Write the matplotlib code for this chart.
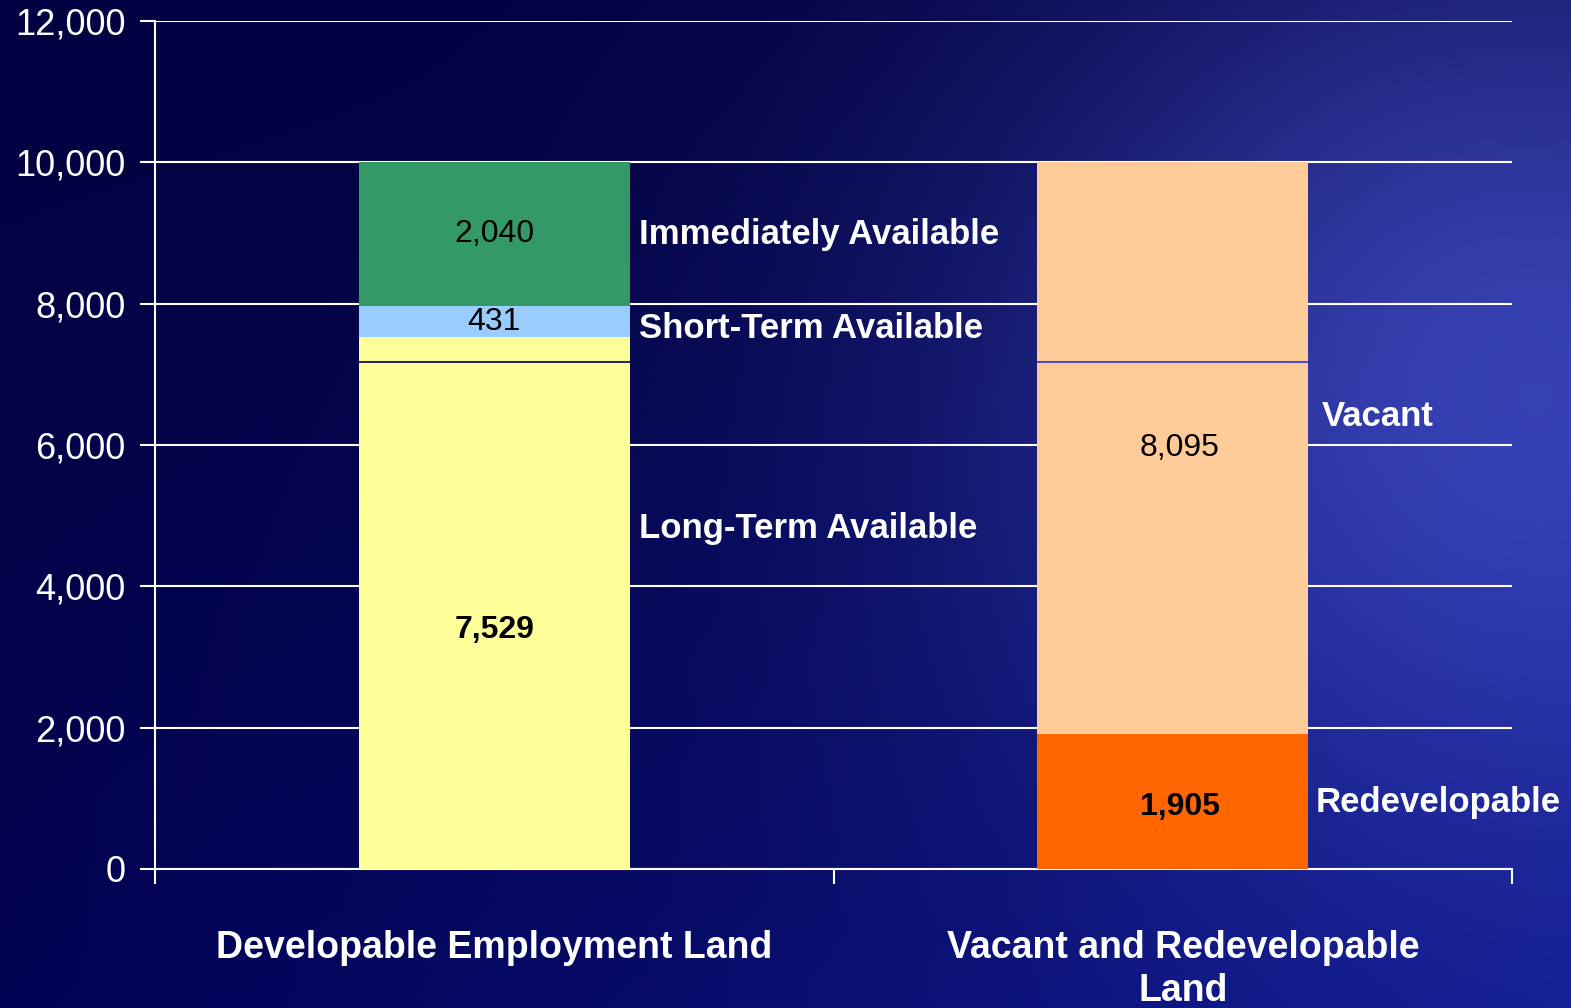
import numpy as np
import matplotlib
matplotlib.use("Agg")
import matplotlib.pyplot as plt
from matplotlib.ticker import FuncFormatter

# data
categories = ["Developable Employment Land", "Vacant and Redevelopable\nLand"]
dev_segments = ["Long-Term Available", "Short-Term Available", "Immediately Available"]
dev_values = [7529, 431, 2040]
dev_colors = ["#FFFF99", "#99CCFF", "#339966"]
vac_segments = ["Redevelopable", "Vacant"]
vac_values = [1905, 8095]
vac_colors = ["#FF6600", "#FFCC99"]
divider_level = 7180  # thin line that crosses both bars

plt.rcParams['font.family'] = ['Liberation Sans', 'DejaVu Sans']

W, H = 1571, 1008
fig = plt.figure(figsize=(W / 100, H / 100), dpi=100)

# background gradient
bg = fig.add_axes([0, 0, 1, 1], zorder=-10)
xx, yy = np.meshgrid(np.linspace(0, 1, 400), np.linspace(0, 1, 260))
w = 0.9 * np.exp(-(((xx - 0.97) / 0.34) ** 2 + ((yy - 0.35) / 0.50) ** 2)) + 0.2 * xx * yy
w = np.clip(w, 0, 1)
base = np.array([0x02, 0x02, 0x42]) / 255
bright = np.array([0x38, 0x40, 0xac]) / 255
img = base * (1 - w[..., None]) + bright * w[..., None]
img[..., 2] += 0.18 * yy ** 1.5 * (0.4 + 0.6 * xx)
img[..., 1] += 0.03 * yy * xx
img = np.clip(img, 0, 1)
bg.imshow(img, aspect='auto', extent=[0, 1, 0, 1], origin='upper', interpolation='bicubic')
bg.set_xlim(0, 1)
bg.set_ylim(0, 1)
bg.axis('off')

ax = fig.add_axes([155 / W, 139 / H, 1357 / W, 848 / H])
ax.set_facecolor('none')

x = np.arange(len(categories))
bw = 0.40

bottom = 0
for val, col in zip(dev_values, dev_colors):
    ax.bar(x[0], val, width=bw, bottom=bottom, color=col, zorder=3)
    bottom += val
bottom = 0
for val, col in zip(vac_values, vac_colors):
    ax.bar(x[1], val, width=bw, bottom=bottom, color=col, zorder=3)
    bottom += val

# thin line across the bars
ax.hlines(divider_level, x[0] - bw / 2, x[0] + bw / 2, color='#000050', lw=1.2, zorder=4)
ax.hlines(divider_level, x[1] - bw / 2, x[1] + bw / 2, color='#2a35d0', lw=1.2, zorder=4)

# value labels inside the bars
fmt = lambda v: f"{v:,}"
dev_mid = np.cumsum(dev_values) - np.array(dev_values) / 2
vac_mid = np.cumsum(vac_values) - np.array(vac_values) / 2
dev_weight = ['bold', 'normal', 'normal']
vac_weight = ['bold', 'normal']
dev_shift = [-380, 0, 0]
vac_shift = [-80, 0]
for v, m, fw, s in zip(dev_values, dev_mid, dev_weight, dev_shift):
    ax.text(x[0], m + s, fmt(v), ha='center', va='center', fontsize=23, fontweight=fw,
            color='black', zorder=5)
for v, m, fw, s in zip(vac_values, vac_mid, vac_weight, vac_shift):
    ax.text(x[1] + 0.01, m + s, fmt(v), ha='center', va='center', fontsize=23, fontweight=fw,
            color='black', zorder=5)

# segment names to the right of the bars
dev_name_y = [4825, 7655, 8985]
vac_name_y = [934, 6410]
for name, yv in zip(dev_segments, dev_name_y):
    ax.text(x[0] + bw / 2 + 0.013, yv, name, ha='left', va='center', fontsize=25,
            fontweight='bold', color='white', zorder=5)
vac_name_x = [x[1] + bw / 2 + 0.011, x[1] + bw / 2 + 0.02]
for name, yv, xv in zip(vac_segments, vac_name_y, vac_name_x):
    ax.text(xv, yv, name, ha='left', va='center', fontsize=25,
            fontweight='bold', color='white', zorder=5)

ax.set_xlim(-0.5, 1.5)
ax.set_ylim(0, 12000)
ax.set_yticks(np.arange(0, 12001, 2000))
ax.yaxis.set_major_formatter(FuncFormatter(lambda v, p: f"{int(v):,}"))
ax.grid(axis='y', color='white', lw=1.5, zorder=1)
ax.set_axisbelow(True)

ax.set_xticks([-0.5, 0.5, 1.5])
ax.set_xticklabels([])
ax.set_xticks(x + np.array([0, 0.015]), minor=True)
ax.set_xticklabels(categories, minor=True, fontsize=27, fontweight='bold', color='white',
                   linespacing=1.25)
ax.tick_params(axis='x', which='minor', length=0, pad=44)
ax.tick_params(axis='x', which='major', length=11, width=1.5, color='white')
ax.tick_params(axis='y', length=11, width=1.5, color='white', labelcolor='white',
               labelsize=26, pad=10)

for side in ['top', 'right']:
    ax.spines[side].set_visible(False)
for side in ['left', 'bottom']:
    ax.spines[side].set_color('white')
    ax.spines[side].set_linewidth(1.5)

fig.savefig('out.png', dpi=100)
